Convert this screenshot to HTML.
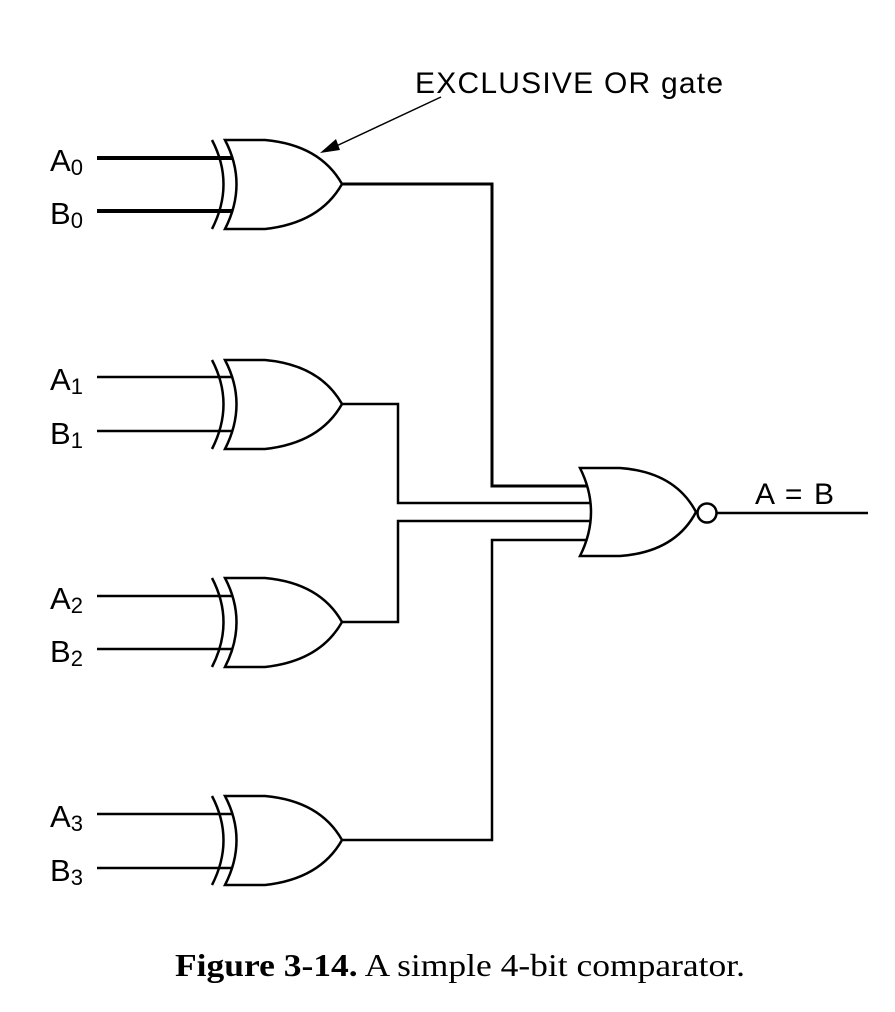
<!DOCTYPE html>
<html><head><style>html,body{margin:0;padding:0;background:#fff}svg{display:block}</style></head>
<body>
<svg width="895" height="1012" viewBox="0 0 895 1012" xmlns="http://www.w3.org/2000/svg">
<defs>
<g id="xor" fill="none" stroke="#000" stroke-width="2.5">
  <path d="M225,-44 L265,-44 Q320,-39 342,0 Q320,39 265,45 L225,45 Q248,0 225,-44 Z" fill="#fff"/>
  <path d="M212,-44 Q235,0 212,45"/>
</g>
</defs>
<g font-family="Liberation Sans, Arial, sans-serif" fill="#000">
<g stroke="#000" stroke-width="4"><line x1="97" y1="158" x2="232" y2="158"/><line x1="97" y1="211" x2="232" y2="211"/></g>
<use href="#xor" transform="translate(0,184)"/>
<g stroke="#000" stroke-width="2.5"><line x1="97" y1="377" x2="232" y2="377"/><line x1="97" y1="431" x2="232" y2="431"/>
<line x1="97" y1="596" x2="232" y2="596"/><line x1="97" y1="649" x2="232" y2="649"/>
<line x1="97" y1="814" x2="232" y2="814"/><line x1="97" y1="868" x2="232" y2="868"/></g>
<use href="#xor" transform="translate(0,404)"/>
<use href="#xor" transform="translate(0,622)"/>
<use href="#xor" transform="translate(0,840)"/>
<g fill="none" stroke="#000" stroke-width="2.5">
<polyline points="342,184 492,184 492,486 592,486" stroke-width="3"/>
<polyline points="342,404 398,404 398,503 592,503"/>
<polyline points="342,622 398,622 398,521 592,521"/>
<polyline points="342,840 492,840 492,540 592,540"/>
<path d="M580,468 L620,468 Q675,472 696,512 Q675,552 620,556 L580,556 Q602,512 580,468 Z" fill="#fff"/>
<circle cx="707" cy="513" r="9.5" fill="#fff"/>
<line x1="717" y1="513" x2="868" y2="513"/>
<line x1="441" y1="97" x2="332" y2="148" stroke-width="1.5"/>
</g>
<polygon points="320,153 336,139 340,150" fill="#000"/>
<text x="415" y="93" font-size="30" textLength="308">EXCLUSIVE OR gate</text>
<text x="755" y="504" font-size="30" textLength="79">A = B</text>
<g font-size="31">
<text x="50" y="171">A<tspan font-size="22" dy="4">0</tspan></text>
<text x="50" y="224">B<tspan font-size="22" dy="4">0</tspan></text>
<text x="50" y="390">A<tspan font-size="22" dy="4">1</tspan></text>
<text x="50" y="444">B<tspan font-size="22" dy="4">1</tspan></text>
<text x="50" y="609">A<tspan font-size="22" dy="4">2</tspan></text>
<text x="50" y="662">B<tspan font-size="22" dy="4">2</tspan></text>
<text x="50" y="827">A<tspan font-size="22" dy="4">3</tspan></text>
<text x="50" y="881">B<tspan font-size="22" dy="4">3</tspan></text>
</g>
<text x="175" y="976" font-family="Liberation Serif, Times New Roman, serif" font-size="32" textLength="570" lengthAdjust="spacingAndGlyphs"><tspan font-weight="bold">Figure 3-14.</tspan>  A simple 4-bit comparator.</text>
</g>
</svg>
</body></html>
